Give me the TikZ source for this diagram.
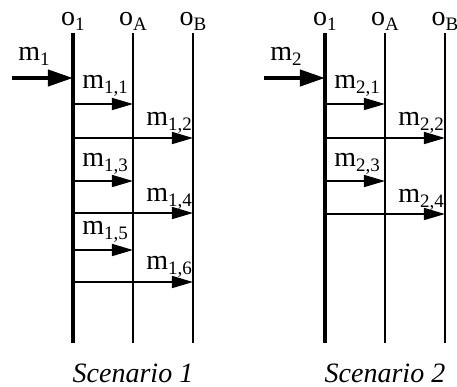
\documentclass[tikz,border=0pt]{standalone}
\usepackage{fontspec}
\setmainfont{Liberation Serif}
\usetikzlibrary{arrows.meta}
\newcommand{\idx}[2]{#1\raisebox{-2.5pt}{\fontsize{9.5}{9.5}\selectfont#2}}
\begin{document}
\begin{tikzpicture}[x=0.5pt,y=-0.5pt,
    every node/.style={font=\fontsize{14}{16}\selectfont, inner sep=0pt},
    life/.style={line width=0.75pt},
    mainlife/.style={line width=1.6pt},
    msg/.style={line width=0.75pt, -{Triangle[length=10.5pt,width=6pt]}},
    inmsg/.style={line width=2pt, -{Triangle[length=12.5pt,width=8pt]}},
    lbl/.style={anchor=base west},
    title/.style={anchor=base, font=\fontsize{14}{16}\selectfont\itshape}]
    \useasboundingbox (0,0) rectangle (457,387);

    % Scenario 1
    \begin{scope}
        \node[anchor=base] (a1) at (73,25) {\idx{o}{1}};
        \node[anchor=base] (aA) at (133,25) {\idx{o}{A}};
        \node[anchor=base] (aB) at (193,25) {\idx{o}{B}};
        \draw[mainlife] (73,33) coordinate (a1t) -- (73,343);
        \draw[life] (133,33) coordinate (aAt) -- (133,343);
        \draw[life] (193,33) coordinate (aBt) -- (193,343);

        \draw[inmsg] (12,78) coordinate (a0) -- (a1t |- a0);
        \node[lbl] (am) at (18,60) {\idx{m}{1}};

        \foreach \i/\y/\t/\f/\dx/\dy in {1/104/A/1/9/-16, 2/138/B/A/13/-13,
                3/181/A/1/9/-15, 4/213/B/A/13/-12, 5/250/A/1/9/-16, 6/282/B/A/13/-13} {
            \coordinate (ay\i) at (0,\y);
            \draw[msg] (a1t |- ay\i) -- (a\t t |- ay\i);
            \path (a\f t |- ay\i) ++(\dx,\dy) node[lbl] (am\i) {\idx{m}{1,\i}};
        }

        \node[title] (as) at (133,382) {Scenario 1};
    \end{scope}

    % Scenario 2
    \begin{scope}[xshift=126pt]
        \node[anchor=base] (b1) at (73,25) {\idx{o}{1}};
        \node[anchor=base] (bA) at (133,25) {\idx{o}{A}};
        \node[anchor=base] (bB) at (193,25) {\idx{o}{B}};
        \draw[mainlife] (73,33) coordinate (b1t) -- (73,343);
        \draw[life] (133,33) coordinate (bAt) -- (133,343);
        \draw[life] (193,33) coordinate (bBt) -- (193,343);

        \draw[inmsg] (12,78) coordinate (b0) -- (b1t |- b0);
        \node[lbl] (bm) at (18,60) {\idx{m}{2}};

        \foreach \i/\y/\t/\f/\dx/\dy in {1/104/A/1/9/-16, 2/138/B/A/13/-13,
                3/181/A/1/9/-15, 4/214/B/A/13/-12} {
            \coordinate (by\i) at (0,\y);
            \draw[msg] (b1t |- by\i) -- (b\t t |- by\i);
            \path (b\f t |- by\i) ++(\dx,\dy) node[lbl] (bm\i) {\idx{m}{2,\i}};
        }

        \node[title] (bs) at (133,382) {Scenario 2};
    \end{scope}
\end{tikzpicture}
\end{document}
